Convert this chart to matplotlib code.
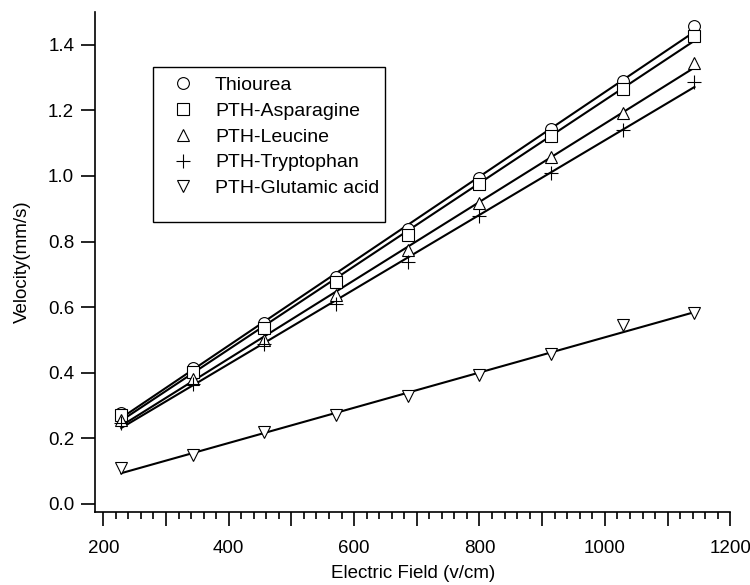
import numpy as np
import matplotlib.pyplot as plt
from matplotlib.lines import Line2D
from matplotlib.patches import Rectangle
from matplotlib.ticker import MultipleLocator, FuncFormatter

plt.rcParams["font.family"] = ["Liberation Sans", "DejaVu Sans"]

# electric field (v/cm): 2..10 kV across the capillary
field = [228.6, 342.9, 457.1, 571.4, 685.7, 800.0, 914.3, 1028.6, 1142.9]

thiourea = [0.278, 0.414, 0.551, 0.693, 0.839, 0.993, 1.143, 1.290, 1.458]
asparagine = [0.271, 0.403, 0.536, 0.678, 0.820, 0.975, 1.123, 1.266, 1.428]
leucine = [0.256, 0.380, 0.500, 0.637, 0.773, 0.918, 1.059, 1.191, 1.346]
tryptophan = [0.248, 0.365, 0.487, 0.610, 0.739, 0.877, 1.010, 1.141, 1.287]
glutamic = [0.109, 0.149, 0.218, 0.271, 0.330, 0.393, 0.457, 0.546, 0.582]

names = ["Thiourea", "PTH-Asparagine", "PTH-Leucine", "PTH-Tryptophan",
         "PTH-Glutamic acid"]
series = [thiourea, asparagine, leucine, tryptophan, glutamic]
markers = ["o", "s", "^", "+", "v"]

fig = plt.figure(figsize=(7.5, 5.85), dpi=100)
W, H = 750, 585
ax = fig.add_axes([95 / W, 1 - 512 / H, (730.3 - 95) / W, (512 - 12) / H])

x = np.array(field)
handles = []
for name, vals, m in zip(names, series, markers):
    y = np.array(vals)
    slope, icpt = np.polyfit(x, y, 1)
    xs = np.array([x[0], x[-1]])
    ax.plot(xs, slope * xs + icpt, color="black", lw=1.5, zorder=2)
    ms = 10 if m == "+" else 8.5
    ax.plot(x, y, linestyle="none", marker=m, ms=ms, mfc="white",
            mec="black", mew=0.8, zorder=3)
    handles.append(Line2D([], [], linestyle="none", marker=m, ms=ms,
                          mfc="white", mec="black", mew=0.8))

ax.set_xlim(186.8, 1200)
ax.set_ylim(-0.0244, 1.5)

for side in ["top", "right"]:
    ax.spines[side].set_visible(False)
for side in ["left", "bottom"]:
    ax.spines[side].set_linewidth(1.2)

ax.xaxis.set_major_locator(MultipleLocator(100))
ax.xaxis.set_minor_locator(MultipleLocator(20))
ax.xaxis.set_major_formatter(
    FuncFormatter(lambda v, p: f"{v:.0f}" if round(v) % 200 == 0 else ""))
ax.yaxis.set_major_locator(MultipleLocator(0.2))
ax.yaxis.set_major_formatter(FuncFormatter(lambda v, p: f"{v:.1f}"))

ax.tick_params(axis="x", which="major", direction="out", length=10,
               width=1.2, labelsize=13.5, pad=10)
ax.tick_params(axis="x", which="minor", direction="out", length=5, width=1.2)
ax.tick_params(axis="y", which="major", direction="out", length=10,
               width=1.2, labelsize=13.5, pad=5)

# odd hundreds get a shorter tick than the labelled ones
for t in ax.xaxis.get_major_ticks():
    loc = t.get_loc()
    if loc is not None and round(loc) % 200 != 0:
        t.tick1line.set_markersize(7.5)

ax.set_xlabel("Electric Field (v/cm)", fontsize=13.5, labelpad=6)
ax.set_ylabel("Velocity(mm/s)", fontsize=13.5, labelpad=12)

leg = ax.legend(handles, names, loc="upper left",
                bbox_to_anchor=(173.3 / W, 1 - 76.5 / H),
                bbox_transform=fig.transFigure, frameon=False, fontsize=14,
                borderpad=0, borderaxespad=0, handlelength=1.0,
                handletextpad=1.15, labelspacing=0.42, numpoints=1)

frame = Rectangle((152.7 / W, 1 - 222 / H), (385 - 152.7) / W,
                  (222 - 67) / H, transform=fig.transFigure, fill=False,
                  edgecolor="black", lw=1.0)
fig.add_artist(frame)

fig.savefig("out.png", dpi=100)
